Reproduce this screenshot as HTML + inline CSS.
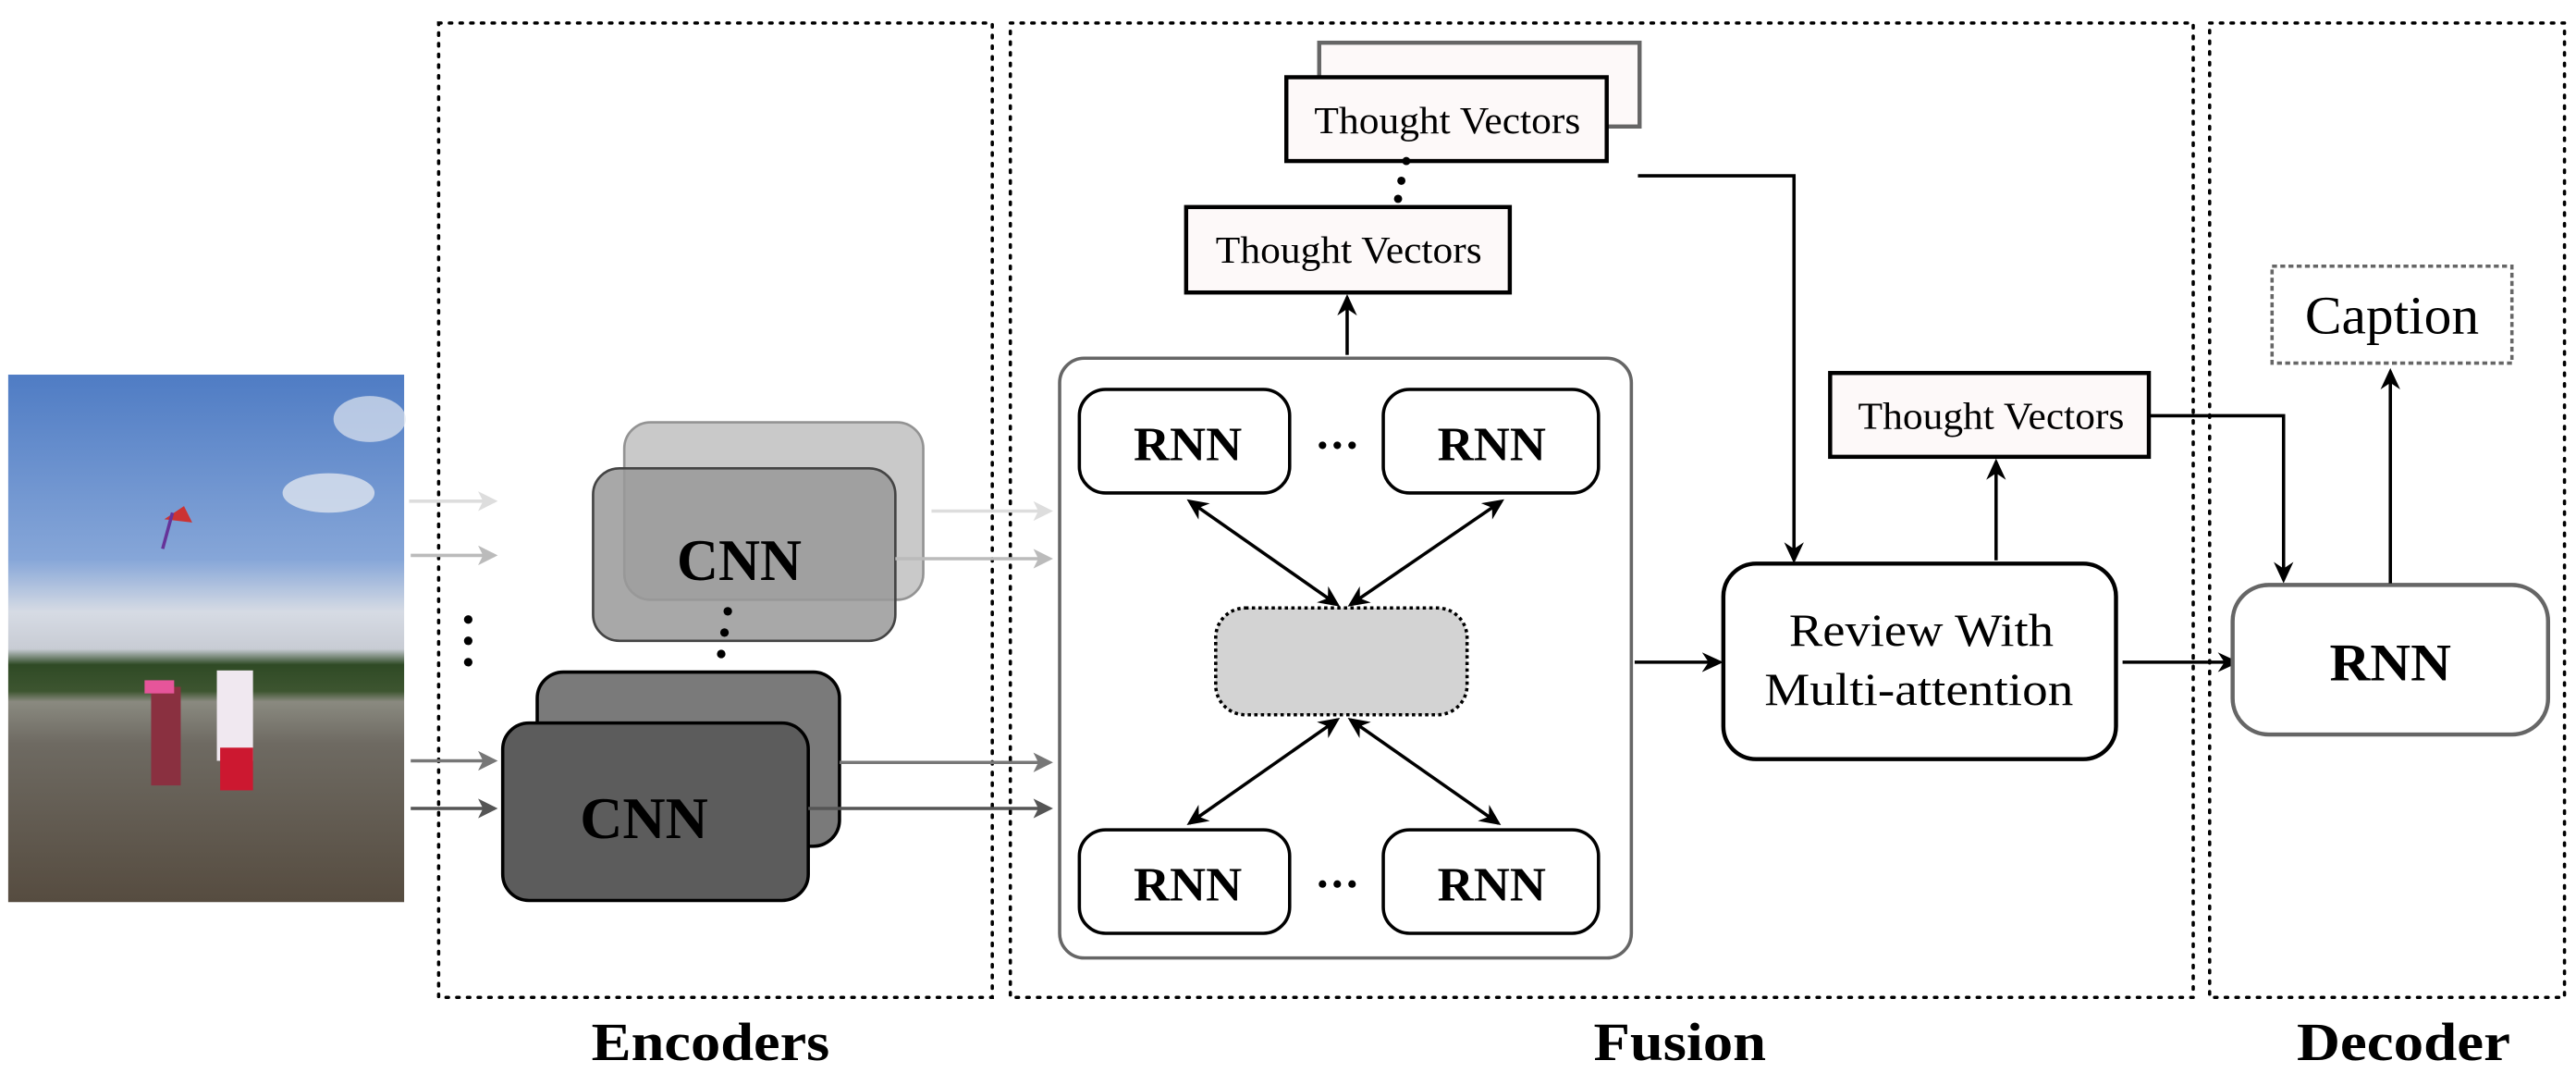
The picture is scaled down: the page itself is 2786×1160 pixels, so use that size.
<!DOCTYPE html>
<html><head><style>html,body{margin:0;padding:0;background:#fff}svg{display:block}</style></head><body>
<svg width="2786" height="1160" viewBox="0 0 1568 653" preserveAspectRatio="none" xmlns="http://www.w3.org/2000/svg" font-family="Liberation Serif, serif">
<defs>
<marker id="a" markerWidth="13" markerHeight="12" refX="11" refY="6" orient="auto-start-reverse" markerUnits="userSpaceOnUse"><path d="M0,0 L13,6 L0,12 L4,6 z" fill="#000"/></marker>
<marker id="al" markerWidth="12" markerHeight="12" refX="10" refY="6" orient="auto" markerUnits="userSpaceOnUse"><path d="M0,0 L12,6 L0,12 L3,6 z" fill="#ddd"/></marker>
<marker id="am" markerWidth="12" markerHeight="12" refX="10" refY="6" orient="auto" markerUnits="userSpaceOnUse"><path d="M0,0 L12,6 L0,12 L3,6 z" fill="#bbb"/></marker>
<marker id="ad" markerWidth="12" markerHeight="12" refX="10" refY="6" orient="auto" markerUnits="userSpaceOnUse"><path d="M0,0 L12,6 L0,12 L3,6 z" fill="#777"/></marker>
<marker id="add" markerWidth="12" markerHeight="12" refX="10" refY="6" orient="auto" markerUnits="userSpaceOnUse"><path d="M0,0 L12,6 L0,12 L3,6 z" fill="#555"/></marker>
<linearGradient id="sky" x1="0" y1="0" x2="0" y2="1">
<stop offset="0" stop-color="#4f7cc4"/><stop offset="0.35" stop-color="#86a6d8"/><stop offset="0.45" stop-color="#d6dbe4"/><stop offset="0.52" stop-color="#c8ccd4"/><stop offset="0.55" stop-color="#2f4a25"/><stop offset="0.6" stop-color="#3d5530"/><stop offset="0.62" stop-color="#8a8a80"/><stop offset="0.7" stop-color="#6e6a62"/><stop offset="1" stop-color="#564c40"/>
</linearGradient>
</defs>
<rect x="5" y="228" width="241" height="321" fill="url(#sky)"/>
<ellipse cx="200" cy="300" rx="28" ry="12" fill="#dfe5ef" opacity="0.8"/>
<ellipse cx="225" cy="255" rx="22" ry="14" fill="#dfe5ef" opacity="0.7"/>
<path d="M100,316 l12,-8 l5,10 z" fill="#c33"/><path d="M105,312 l-6,22" stroke="#639" stroke-width="2"/>
<rect x="92" y="418" width="18" height="60" fill="#8a3040"/><rect x="88" y="414" width="18" height="8" fill="#e6559a"/>
<rect x="132" y="408" width="22" height="55" fill="#f0e8f0"/><rect x="134" y="455" width="20" height="26" fill="#cc1830"/>
<g fill="none" stroke="#000" stroke-width="2" stroke-dasharray="1.5 5" stroke-linecap="round">
<rect x="267" y="14" width="337" height="593"/>
<rect x="615" y="14" width="720" height="593"/>
<rect x="1345" y="14" width="216" height="593"/>
</g>
<g font-weight="bold" font-size="33">
<text x="360" y="645" textLength="145" lengthAdjust="spacingAndGlyphs">Encoders</text>
<text x="970" y="645" textLength="105" lengthAdjust="spacingAndGlyphs">Fusion</text>
<text x="1398" y="645" textLength="130" lengthAdjust="spacingAndGlyphs">Decoder</text>
</g>
<line x1="249" y1="305" x2="301" y2="305" stroke="#ddd" stroke-width="2" marker-end="url(#al)"/>
<line x1="250" y1="338" x2="301" y2="338" stroke="#bbb" stroke-width="2" marker-end="url(#am)"/>
<line x1="250" y1="463" x2="301" y2="463" stroke="#777" stroke-width="2" marker-end="url(#ad)"/>
<line x1="250" y1="492" x2="301" y2="492" stroke="#555" stroke-width="2" marker-end="url(#add)"/>
<g fill="#000"><circle cx="285" cy="377" r="2.6"/><circle cx="285" cy="390" r="2.6"/><circle cx="285" cy="403" r="2.6"/></g>
<rect x="380" y="257" width="182" height="108" rx="16" fill="#c4c4c4" stroke="#888" stroke-width="1.5" opacity="0.9"/>
<rect x="361" y="285" width="184" height="105" rx="16" fill="#999" fill-opacity="0.85" stroke="#444" stroke-width="1.5"/>
<text x="412" y="353" font-size="36" font-weight="bold" textLength="76" lengthAdjust="spacingAndGlyphs">CNN</text>
<g fill="#000"><circle cx="443" cy="372" r="2.6"/><circle cx="441" cy="385" r="2.6"/><circle cx="439" cy="398" r="2.6"/></g>
<rect x="327" y="409" width="184" height="106" rx="16" fill="#7a7a7a" stroke="#000" stroke-width="2"/>
<rect x="306" y="440" width="186" height="108" rx="16" fill="#5c5c5c" stroke="#000" stroke-width="2"/>
<text x="353" y="510" font-size="36" font-weight="bold" textLength="78" lengthAdjust="spacingAndGlyphs">CNN</text>
<line x1="567" y1="311" x2="639" y2="311" stroke="#ddd" stroke-width="2" marker-end="url(#al)"/>
<line x1="545" y1="340" x2="639" y2="340" stroke="#bbb" stroke-width="2" marker-end="url(#am)"/>
<line x1="511" y1="464" x2="639" y2="464" stroke="#777" stroke-width="2" marker-end="url(#ad)"/>
<line x1="492" y1="492" x2="639" y2="492" stroke="#555" stroke-width="2" marker-end="url(#add)"/>
<rect x="645" y="218" width="348" height="365" rx="15" fill="#fff" stroke="#666" stroke-width="2"/>
<g fill="#fff" stroke="#000" stroke-width="2">
<rect x="657" y="237" width="128" height="63" rx="16"/><rect x="842" y="237" width="131" height="63" rx="16"/>
<rect x="657" y="505" width="128" height="63" rx="16"/><rect x="842" y="505" width="131" height="63" rx="16"/>
</g>
<g font-size="29" font-weight="bold">
<text x="690" y="280" textLength="66" lengthAdjust="spacingAndGlyphs">RNN</text>
<text x="875" y="280" textLength="66" lengthAdjust="spacingAndGlyphs">RNN</text>
<text x="690" y="548" textLength="66" lengthAdjust="spacingAndGlyphs">RNN</text>
<text x="875" y="548" textLength="66" lengthAdjust="spacingAndGlyphs">RNN</text>
</g>
<g fill="#000"><circle cx="805" cy="271" r="2.3"/><circle cx="814" cy="271" r="2.3"/><circle cx="823" cy="271" r="2.3"/>
<circle cx="805" cy="538" r="2.3"/><circle cx="814" cy="538" r="2.3"/><circle cx="823" cy="538" r="2.3"/></g>
<rect x="740" y="370" width="153" height="65" rx="18" fill="#d3d3d3" stroke="#000" stroke-width="2" stroke-dasharray="2 2"/>
<g stroke="#000" stroke-width="2" marker-start="url(#a)" marker-end="url(#a)">
<line x1="724" y1="305" x2="814" y2="368"/><line x1="914" y1="305" x2="822" y2="368"/>
<line x1="814" y1="438" x2="724" y2="501"/><line x1="822" y1="438" x2="912" y2="501"/>
</g>
<line x1="820" y1="216" x2="820" y2="181" stroke="#000" stroke-width="2" marker-end="url(#a)"/>
<rect x="803" y="26" width="195" height="51" fill="#fdf9f9" stroke="#666" stroke-width="2.5"/>
<rect x="783" y="47" width="195" height="51" fill="#fdf9f9" stroke="#000" stroke-width="2.5"/>
<text x="800" y="81" font-size="23" textLength="162" lengthAdjust="spacingAndGlyphs">Thought Vectors</text>
<g fill="#000"><circle cx="856" cy="98" r="2.5"/><circle cx="853" cy="110" r="2.5"/><circle cx="851" cy="121" r="2.5"/></g>
<rect x="722" y="126" width="197" height="52" fill="#fdf9f9" stroke="#000" stroke-width="2.5"/>
<text x="740" y="160" font-size="23" textLength="162" lengthAdjust="spacingAndGlyphs">Thought Vectors</text>
<polyline points="997,107 1092,107 1092,341" fill="none" stroke="#000" stroke-width="2" marker-end="url(#a)"/>
<rect x="1049" y="343" width="239" height="119" rx="20" fill="#fff" stroke="#000" stroke-width="2.5"/>
<text x="1089" y="393" font-size="28" textLength="161" lengthAdjust="spacingAndGlyphs">Review With</text>
<text x="1074" y="429" font-size="28" textLength="188" lengthAdjust="spacingAndGlyphs">Multi-attention</text>
<line x1="995" y1="403" x2="1047" y2="403" stroke="#000" stroke-width="2" marker-end="url(#a)"/>
<line x1="1215" y1="341" x2="1215" y2="281" stroke="#000" stroke-width="2" marker-end="url(#a)"/>
<rect x="1114" y="227" width="194" height="51" fill="#fdf9f9" stroke="#000" stroke-width="2.5"/>
<text x="1131" y="261" font-size="23" textLength="162" lengthAdjust="spacingAndGlyphs">Thought Vectors</text>
<polyline points="1308,253 1390,253 1390,353" fill="none" stroke="#000" stroke-width="2" marker-end="url(#a)"/>
<line x1="1292" y1="403" x2="1361" y2="403" stroke="#000" stroke-width="2" marker-end="url(#a)"/>
<rect x="1359" y="356" width="192" height="91" rx="22" fill="#fff" stroke="#666" stroke-width="2.5"/>
<text x="1418" y="414" font-size="32" font-weight="bold" textLength="74" lengthAdjust="spacingAndGlyphs">RNN</text>
<line x1="1455" y1="355" x2="1455" y2="226" stroke="#000" stroke-width="2" marker-end="url(#a)"/>
<rect x="1383" y="162" width="146" height="59" fill="#fff" stroke="#666" stroke-width="2" stroke-dasharray="3 2"/>
<text x="1403" y="203" font-size="33" textLength="106" lengthAdjust="spacingAndGlyphs">Caption</text>
</svg>
</body></html>
